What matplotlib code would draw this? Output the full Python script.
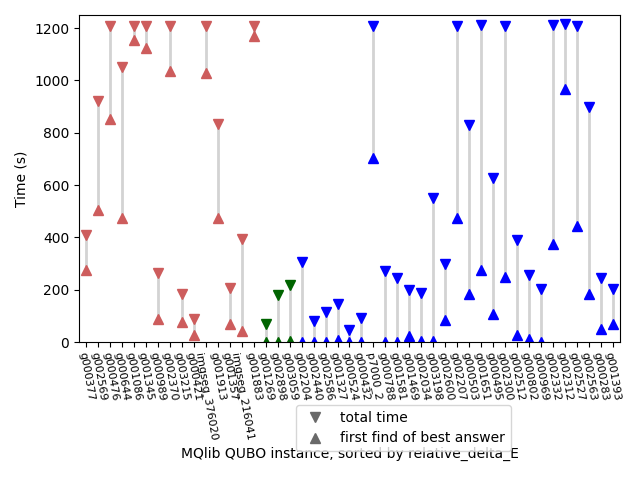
import matplotlib
matplotlib.use("Agg")
import matplotlib.pyplot as plt

# instances, sorted by relative_delta_E
instances = ["g000377", "g002569", "g000476", "g000644", "g001086", "g001345",
             "g000989", "g002370", "g003215", "g000421", "imgseg_376020",
             "g001913", "g001357", "imgseg_216041", "g001883", "g001269",
             "g002898", "g003059", "g002204", "g002440", "g002586", "g001327",
             "g000524", "g000432", "p7000_2", "g000788", "g001581", "g001469",
             "g002034", "g003198", "g002600", "g002207", "g000503", "g001651",
             "g000495", "g002300", "g002512", "g000802", "g000969", "g002332",
             "g002312", "g002527", "g002563", "g000283", "g001393"]

total_time = [411, 923, 1207, 1053, 1207, 1207, 262, 1207, 185, 87, 1207,
              832, 208, 393, 1207, 70, 179, 217, 306, 79, 115, 147, 47, 93,
              1207, 271, 245, 198, 188, 552, 300, 1207, 830, 1212, 626, 1207,
              389, 258, 204, 1211, 1215, 1207, 900, 243, 204]

first_find = [274, 504, 853, 476, 1153, 1126, 87, 1037, 77, 28, 1028,
              475, 68, 42, 1170, 0, 0, 5, 0, 0, 0, 8, 0, 0,
              705, 0, 0, 22, 5, 4, 83, 475, 185, 275, 106, 249,
              26, 13, 0, 373, 966, 444, 185, 51, 68]

# group per instance: 0 = red, 1 = green, 2 = blue
group = [0] * 15 + [1] * 3 + [2] * 27
group_colors = ["indianred", "darkgreen", "blue"]

fig = plt.figure(figsize=(6.4, 4.8), dpi=100)
ax = fig.add_axes([0.1234, 0.2875, 0.8453, 0.681])

x = list(range(len(instances)))
for i in x:
    c = group_colors[group[i]]
    ax.plot([i, i], [first_find[i], total_time[i]], color="lightgray",
            linewidth=2, zorder=1)
    ax.plot(i, total_time[i], marker="v", color=c, markersize=7,
            linestyle="none", zorder=2)
    ax.plot(i, first_find[i], marker="^", color=c, markersize=7,
            linestyle="none", zorder=2)

# legend handles in neutral gray
ax.plot([], [], marker="v", color="dimgray", linestyle="none", markersize=7,
        label="total time")
ax.plot([], [], marker="^", color="dimgray", linestyle="none", markersize=7,
        label="first find of best answer")

ax.set_xticks(x)
ax.set_xticklabels(instances, rotation=-80, fontsize=8)
ax.set_xlim(-0.6, 44.6)
ax.set_ylim(0, 1250)
ax.set_ylabel("Time (s)")
ax.set_xlabel("MQlib QUBO instance, sorted by relative_delta_E")

ax.legend(loc="upper left", bbox_to_anchor=(296 / 640, 1 - 405 / 480),
          bbox_transform=fig.transFigure, borderaxespad=0)

fig.savefig("out.png")
